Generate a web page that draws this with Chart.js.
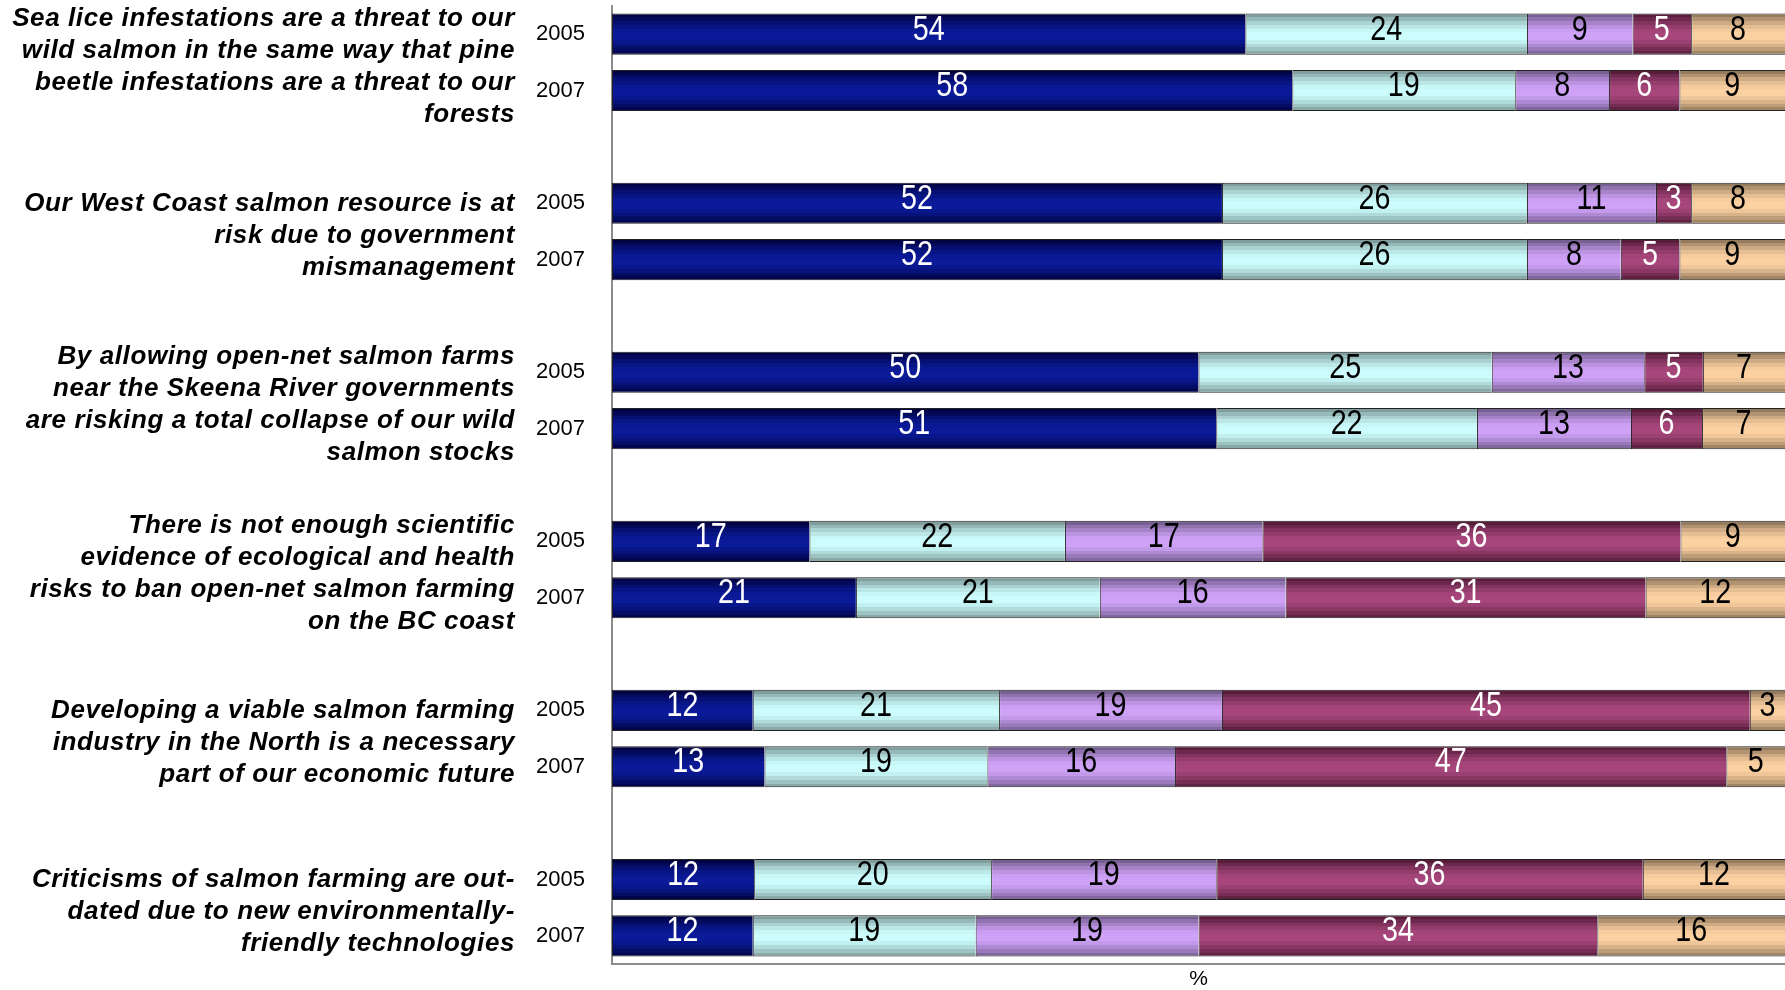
<!DOCTYPE html>
<html>
<head>
<meta charset="utf-8">
<script src="https://cdn.jsdelivr.net/npm/chart.js@4.4.1/dist/chart.umd.min.js"></script>
<style>
  html, body { margin: 0; padding: 0; background: #fff; }
  canvas { display: block; }
</style>
</head>
<body>
<canvas id="myChart" width="1785" height="990"></canvas>
<script>
// one slot per bar, blank slots separate the statements
var yearLabels = ['2005', '2007', '', '2005', '2007', '', '2005', '2007', '', '2005', '2007', '', '2005', '2007', '', '2005', '2007'];

var statements = [
    ['Sea lice infestations are a threat to our', 'wild salmon in the same way that pine', 'beetle infestations are a threat to our', 'forests'],
    ['Our West Coast salmon resource is at', 'risk due to government', 'mismanagement'],
    ['By allowing open-net salmon farms', 'near the Skeena River governments', 'are risking a total collapse of our wild', 'salmon stocks'],
    ['There is not enough scientific', 'evidence of ecological and health', 'risks to ban open-net salmon farming', 'on the BC coast'],
    ['Developing a viable salmon farming', 'industry in the North is a necessary', 'part of our economic future'],
    ['Criticisms of salmon farming are out-', 'dated due to new environmentally-', 'friendly technologies']
];

var seriesNames = ['Strongly agree', 'Somewhat agree', 'Somewhat disagree', 'Strongly disagree', "Don't know"];
var stronglyAgree    = [54, 58, null, 52, 52, null, 50, 51, null, 17, 21, null, 12, 13, null, 12, 12];
var somewhatAgree    = [24, 19, null, 26, 26, null, 25, 22, null, 22, 21, null, 21, 19, null, 20, 19];
var somewhatDisagree = [9, 8, null, 11, 8, null, 13, 13, null, 17, 16, null, 19, 16, null, 19, 19];
var stronglyDisagree = [5, 6, null, 3, 5, null, 5, 6, null, 36, 31, null, 45, 47, null, 36, 34];
var dontKnow         = [8, 9, null, 8, 9, null, 7, 7, null, 9, 12, null, 3, 5, null, 12, 16];

var allSeries = [stronglyAgree, somewhatAgree, somewhatDisagree, stronglyDisagree, dontKnow];

// band colours: [edge, middle], label colour
var palette = [
    ['#00003a', '#0a1a98', '#ffffff'],
    ['#789494', '#ccfcfc', '#000000'],
    ['#6c5886', '#cfa2f8', '#000000'],
    ['#4e1834', '#a6467a', '#ffffff'],
    ['#8a7256', '#fcd1a2', '#000000']
];
var BAR_PCT = 0.73;

// bars are drawn as 100% stacks
var totals = yearLabels.map(function (l, i) {
    var s = 0;
    allSeries.forEach(function (arr) { if (arr[i] != null) s += arr[i]; });
    return s;
});

function hexToRgb(h) {
    var n = parseInt(h.slice(1), 16);
    return [(n >> 16) & 255, (n >> 8) & 255, n & 255];
}
function mix(a, b, t) {
    var x = hexToRgb(a), y = hexToRgb(b);
    return 'rgb(' + x.map(function (v, k) { return Math.round(v + (y[k] - v) * t); }).join(',') + ')';
}

var profile = [0.1, 0.35, 0.6, 0.8, 0.95, 1.0, 1.0, 0.88, 0.68, 0.45, 0.2];

function bandFill(edge, mid) {
    return function (ctx) {
        var chart = ctx.chart;
        var ys = chart.scales.y;
        if (!ys || !chart.chartArea || ctx.type !== 'data') return mid;
        var c = ys.getPixelForValue(ctx.dataIndex);
        var slot = Math.abs(ys.getPixelForValue(1) - ys.getPixelForValue(0));
        var half = slot * BAR_PCT / 2;
        var g = chart.ctx.createLinearGradient(0, c - half, 0, c + half);
        var n = profile.length;
        for (var i = 0; i < n; i++) {
            var col = mix(edge, mid, profile[i]);
            g.addColorStop(i / n, col);
            g.addColorStop(Math.min(1, (i + 1) / n - 0.0001), col);
        }
        return g;
    };
}

var datasets = allSeries.map(function (arr, k) {
    return {
        label: seriesNames[k],
        data: arr.map(function (v, i) { return v == null ? null : v / totals[i] * 100; }),
        rawValues: arr,
        backgroundColor: bandFill(palette[k][0], palette[k][1]),
        borderColor: '#222222',
        borderWidth: { left: 1, top: 1, right: 0, bottom: 1 },
        borderSkipped: false,
        barPercentage: BAR_PCT,
        categoryPercentage: 1.0
    };
});

var segmentLabels = {
    id: 'segmentLabels',
    afterDatasetsDraw: function (chart) {
        var ctx = chart.ctx;
        ctx.save();
        ctx.textAlign = 'center';
        ctx.textBaseline = 'middle';
        ctx.font = '35px "Liberation Sans", Arial, sans-serif';
        chart.data.datasets.forEach(function (ds, k) {
            var meta = chart.getDatasetMeta(k);
            meta.data.forEach(function (el, i) {
                var v = ds.rawValues[i];
                if (v == null) return;
                var cx = (el.x + el.base) / 2;
                ctx.save();
                ctx.translate(cx, el.y - 4);
                ctx.scale(0.82, 1);
                ctx.fillStyle = palette[k][2];
                ctx.fillText(String(v), 0, 0);
                ctx.restore();
            });
        });
        ctx.restore();
    }
};

var statementLabels = {
    id: 'statementLabels',
    afterDraw: function (chart) {
        var ctx = chart.ctx;
        var ys = chart.scales.y;
        var lineH = 32;
        ctx.save();
        ctx.font = 'italic bold 26px "Liberation Sans", Arial, sans-serif';
        ctx.letterSpacing = '0.6px';
        ctx.textAlign = 'right';
        ctx.textBaseline = 'middle';
        ctx.fillStyle = '#000';
        statements.forEach(function (lines, g) {
            var mid = (ys.getPixelForValue(g * 3) + ys.getPixelForValue(g * 3 + 1)) / 2 + 4;
            var y0 = mid - (lines.length - 1) / 2 * lineH;
            lines.forEach(function (t, j) {
                ctx.fillText(t, 515, y0 + j * lineH);
            });
        });
        ctx.restore();
    }
};

new Chart(document.getElementById('myChart'), {
    type: 'bar',
    data: { labels: yearLabels, datasets: datasets },
    options: {
        responsive: false,
        animation: false,
        indexAxis: 'y',
        layout: { padding: { top: 6, right: 0, bottom: 0, left: 0 } },
        plugins: {
            legend: { display: false },
            tooltip: { enabled: false }
        },
        scales: {
            x: {
                stacked: true,
                min: 0,
                max: 100,
                grid: { display: false, drawTicks: false },
                border: { display: true, color: '#8c8c8c', width: 2 },
                ticks: { display: false },
                title: {
                    display: true,
                    text: '%',
                    color: '#000',
                    font: { family: '"Liberation Sans", Arial, sans-serif', size: 21, lineHeight: 1.0 },
                    padding: { top: 5, bottom: 0 }
                }
            },
            y: {
                stacked: true,
                grid: { display: false, drawTicks: false },
                border: { display: true, color: '#8c8c8c', width: 2 },
                ticks: {
                    autoSkip: false,
                    color: '#000',
                    padding: 27,
                    font: { family: '"Liberation Sans", Arial, sans-serif', size: 22 }
                },
                afterFit: function (scale) {
                    scale.width = 612;
                    scale.paddingTop = 0;
                    scale.paddingBottom = 0;
                }
            }
        }
    },
    plugins: [segmentLabels, statementLabels]
});
</script>
</body>
</html>
